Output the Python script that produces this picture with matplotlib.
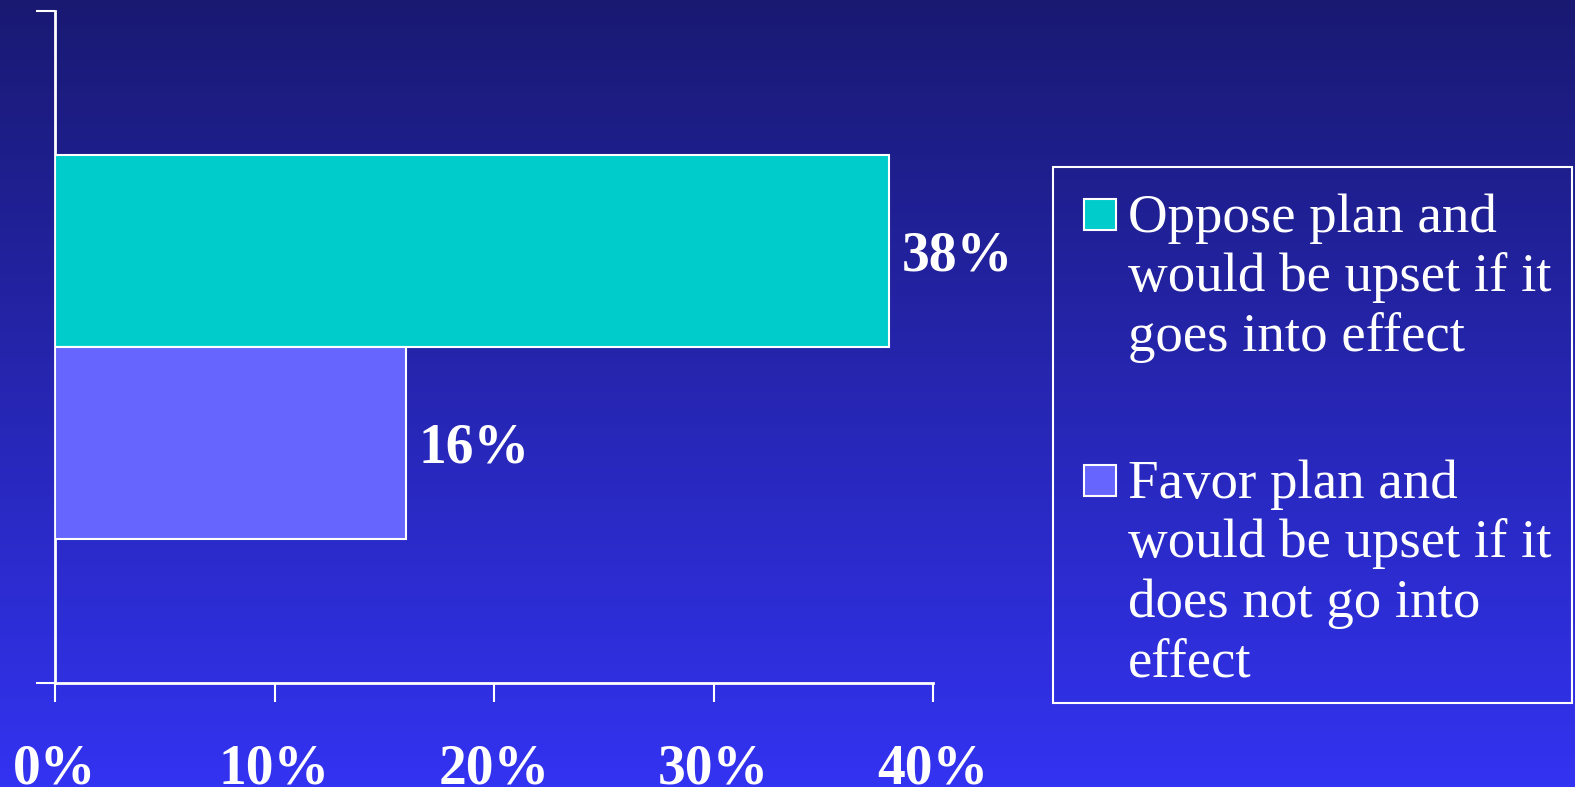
import numpy as np
import matplotlib
matplotlib.use("Agg")
import matplotlib.pyplot as plt
from matplotlib.patches import Rectangle
from matplotlib.colors import LinearSegmentedColormap

# ---- data ----
series_labels = ["Oppose plan and\nwould be upset if it\ngoes into effect",
                 "Favor plan and\nwould be upset if it\ndoes not go into\neffect"]
series_values = [38, 16]
series_colors = ["#00CCCC", "#6666FF"]
x_ticks = [0, 10, 20, 30, 40]
x_tick_labels = ["0%", "10%", "20%", "30%", "40%"]

W, H = 1575, 787
fig = plt.figure(figsize=(W / 100, H / 100), dpi=100)

def fx(x):
    return x / W

def fy(y):
    return 1 - y / H

# background gradient
bg = fig.add_axes([0, 0, 1, 1], zorder=0)
cmap = LinearSegmentedColormap.from_list("bg", ["#191972", "#3333F2"])
grad = np.linspace(0, 1, 256).reshape(-1, 1)
bg.imshow(grad, aspect="auto", cmap=cmap, extent=[0, 1, 0, 1], origin="upper")
bg.set_axis_off()

serif = ["Liberation Serif", "DejaVu Serif"]

# main axes: x 55..933 px, y 11..683 px
ax = fig.add_axes([fx(55), fy(683), fx(933) - fx(55), fy(11) - fy(683)], zorder=1)
ax.patch.set_alpha(0)
ax.set_xlim(0, 40)
ax.set_ylim(-0.5, 0.5)

bar_h = 0.2855
ypos = [0.5 * bar_h, -0.5 * bar_h]
for v, y, c in zip(series_values, ypos, series_colors):
    ax.barh(y, v, height=bar_h, color=c, edgecolor="white", linewidth=1.5, zorder=3)
    ax.annotate(f"{v}%", xy=(v, y), xytext=(9, -4), textcoords="offset points",
                ha="left", va="center", color="white",
                fontsize=40, fontweight="bold", family=serif)

for s in ["top", "right"]:
    ax.spines[s].set_visible(False)
for s in ["left", "bottom"]:
    ax.spines[s].set_color("white")
    ax.spines[s].set_linewidth(2)

ax.set_xticks(x_ticks)
ax.set_xticklabels(x_tick_labels, fontsize=40, fontweight="bold", family=serif, color="white")
ax.tick_params(axis="x", direction="out", length=13.5, width=1.5, color="white", pad=30)
ax.set_yticks([-0.5, 0.5])
ax.set_yticklabels([])
ax.tick_params(axis="y", direction="out", length=13.5, width=1.5, color="white")

# legend (drawn manually)
fig.patches.append(Rectangle((fx(1053), fy(703)), fx(1572) - fx(1053), fy(167) - fy(703),
                             transform=fig.transFigure, facecolor="none",
                             edgecolor="white", linewidth=1.5, zorder=2))
leg_tops = [199, 465]
for lab, c, top in zip(series_labels, series_colors, leg_tops):
    fig.patches.append(Rectangle((fx(1084), fy(top + 31)), fx(32), 31 / H,
                                 transform=fig.transFigure, facecolor=c,
                                 edgecolor="white", linewidth=1.5, zorder=3))
    fig.text(fx(1128), fy(top - 6), lab, ha="left", va="top", color="white",
             fontsize=39.5, family=serif, linespacing=1.23, zorder=3)

fig.savefig("out.png", dpi=100)
